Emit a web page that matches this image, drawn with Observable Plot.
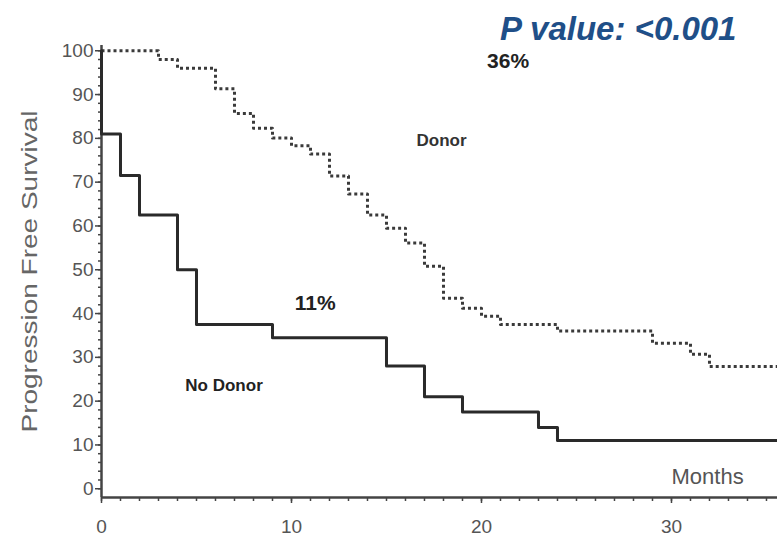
<!DOCTYPE html>
<html>
<head>
<meta charset="utf-8">
<script src="https://cdn.jsdelivr.net/npm/d3@7"></script>
<script src="https://cdn.jsdelivr.net/npm/@observablehq/plot@0.6"></script>
<style>
  html, body { margin: 0; padding: 0; background: #fff; }
  #chart svg { display: block; font-family: "Liberation Sans", Arial, sans-serif; }
</style>
</head>
<body>
<div id="chart"></div>
<script>
// Kaplan–Meier progression-free survival, months after transplant decision
const donorMonths    = [0, 3, 4, 6, 7, 8, 9, 10, 11, 12, 13, 14, 15, 16, 17, 18, 19, 20, 21, 24, 29, 31, 32, 35.58];
const donorSurvival  = [100, 98, 96, 91.3, 85.7, 82.3, 80.1, 78.3, 76.4, 71.4, 67.3, 62.5, 59.5, 56.1, 50.8, 43.5, 41.2, 39.4, 37.5, 36, 33.2, 30.7, 27.9, 27.9];

const noDonorMonths   = [0, 0, 1, 2, 4, 5, 9, 15, 17, 19, 23, 24, 35.58];
const noDonorSurvival = [100, 81, 71.5, 62.5, 50, 37.5, 34.5, 28, 21, 17.5, 14, 11, 11];

const yTicks = [0, 10, 20, 30, 40, 50, 60, 70, 80, 90, 100];
const xTicks = [0, 10, 20, 30];

// in-plot annotations: text, anchor month, anchor survival
const noteText  = ["P value: <0.001", "36%", "Donor", "11%", "No Donor", "Months"];
const noteMonth = [27.2, 21.4, 17.9, 11.25, 6.45, 31.9];
const noteValue = [104.8, 97.5, 79.5, 42.4, 23.6, 2.6];

const donor = donorMonths.map((m, i) => ({month: m, pfs: donorSurvival[i]}));
const noDonor = noDonorMonths.map((m, i) => ({month: m, pfs: noDonorSurvival[i]}));
const notes = noteText.map((t, i) => ({text: t, month: noteMonth[i], pfs: noteValue[i]}));

const noteStyle = {
  "P value: <0.001": {fontSize: 33, fontWeight: "bold", fontStyle: "italic", fill: "#1f4f88"},
  "36%": {fontSize: 21, fontWeight: "bold", fill: "#222"},
  "Donor": {fontSize: 17, fontWeight: "bold", fill: "#333"},
  "11%": {fontSize: 21, fontWeight: "bold", fill: "#222"},
  "No Donor": {fontSize: 17, fontWeight: "bold", fill: "#222"},
  "Months": {fontSize: 22, fontWeight: "normal", fill: "#555"}
};

const axisColor = "#444";

const chart = Plot.plot({
  width: 777,
  height: 536,
  marginLeft: 101,
  marginRight: 0,
  marginTop: 45,
  marginBottom: 39,
  style: {background: "#fff", overflow: "visible"},
  x: {domain: [0, 35.58]},
  y: {domain: [-2, 101.2]},
  marks: [
    // minor ticks
    Plot.axisY(d3.range(0, 101, 2), {tickSize: 3, tickFormat: () => "", label: null, stroke: axisColor, strokeWidth: 1.5}),
    Plot.axisX(d3.range(0, 36, 1), {tickSize: 4, tickFormat: () => "", label: null, stroke: axisColor, strokeWidth: 1.5}),
    // major ticks with labels
    Plot.axisY(yTicks, {tickSize: 6, tickPadding: 2, fontSize: 19, color: "#555", stroke: axisColor, strokeWidth: 1.5, label: null}),
    Plot.axisX(xTicks, {tickSize: 6, tickPadding: 16, fontSize: 19, color: "#555", stroke: axisColor, strokeWidth: 1.5, label: null}),
    // axis lines
    Plot.ruleX([0], {y1: -2, y2: 101.2, stroke: axisColor, strokeWidth: 2.5}),
    Plot.ruleY([-2], {x1: 0, x2: 35.58, stroke: axisColor, strokeWidth: 2.5}),
    // survival curves
    Plot.line(donor, {x: "month", y: "pfs", curve: "step-after", stroke: "#3a3a3a", strokeWidth: 3, strokeDasharray: "3,3", strokeLinecap: "butt"}),
    Plot.line(noDonor, {x: "month", y: "pfs", curve: "step-after", stroke: "#2a2a2a", strokeWidth: 3}),
    // annotations
    ...notes.map(n => Plot.text([n], {x: "month", y: "pfs", text: "text", textAnchor: "middle", lineAnchor: "middle", fontFamily: "Liberation Sans, Arial, sans-serif", ...noteStyle[n.text]})),
    // y-axis title
    Plot.text(["Progression Free Survival"], {y: 49.6, frameAnchor: "left", dx: -72, rotate: -90, fontSize: 22, fill: "#666", textAnchor: "middle", lineAnchor: "middle"})
  ]
});

document.getElementById("chart").appendChild(chart);

// stretch the y-axis title along the full axis height
chart.querySelectorAll("text").forEach(t => {
  if (t.textContent === "Progression Free Survival") {
    t.setAttribute("textLength", 322);
    t.setAttribute("lengthAdjust", "spacingAndGlyphs");
  }
});
</script>
</body>
</html>
